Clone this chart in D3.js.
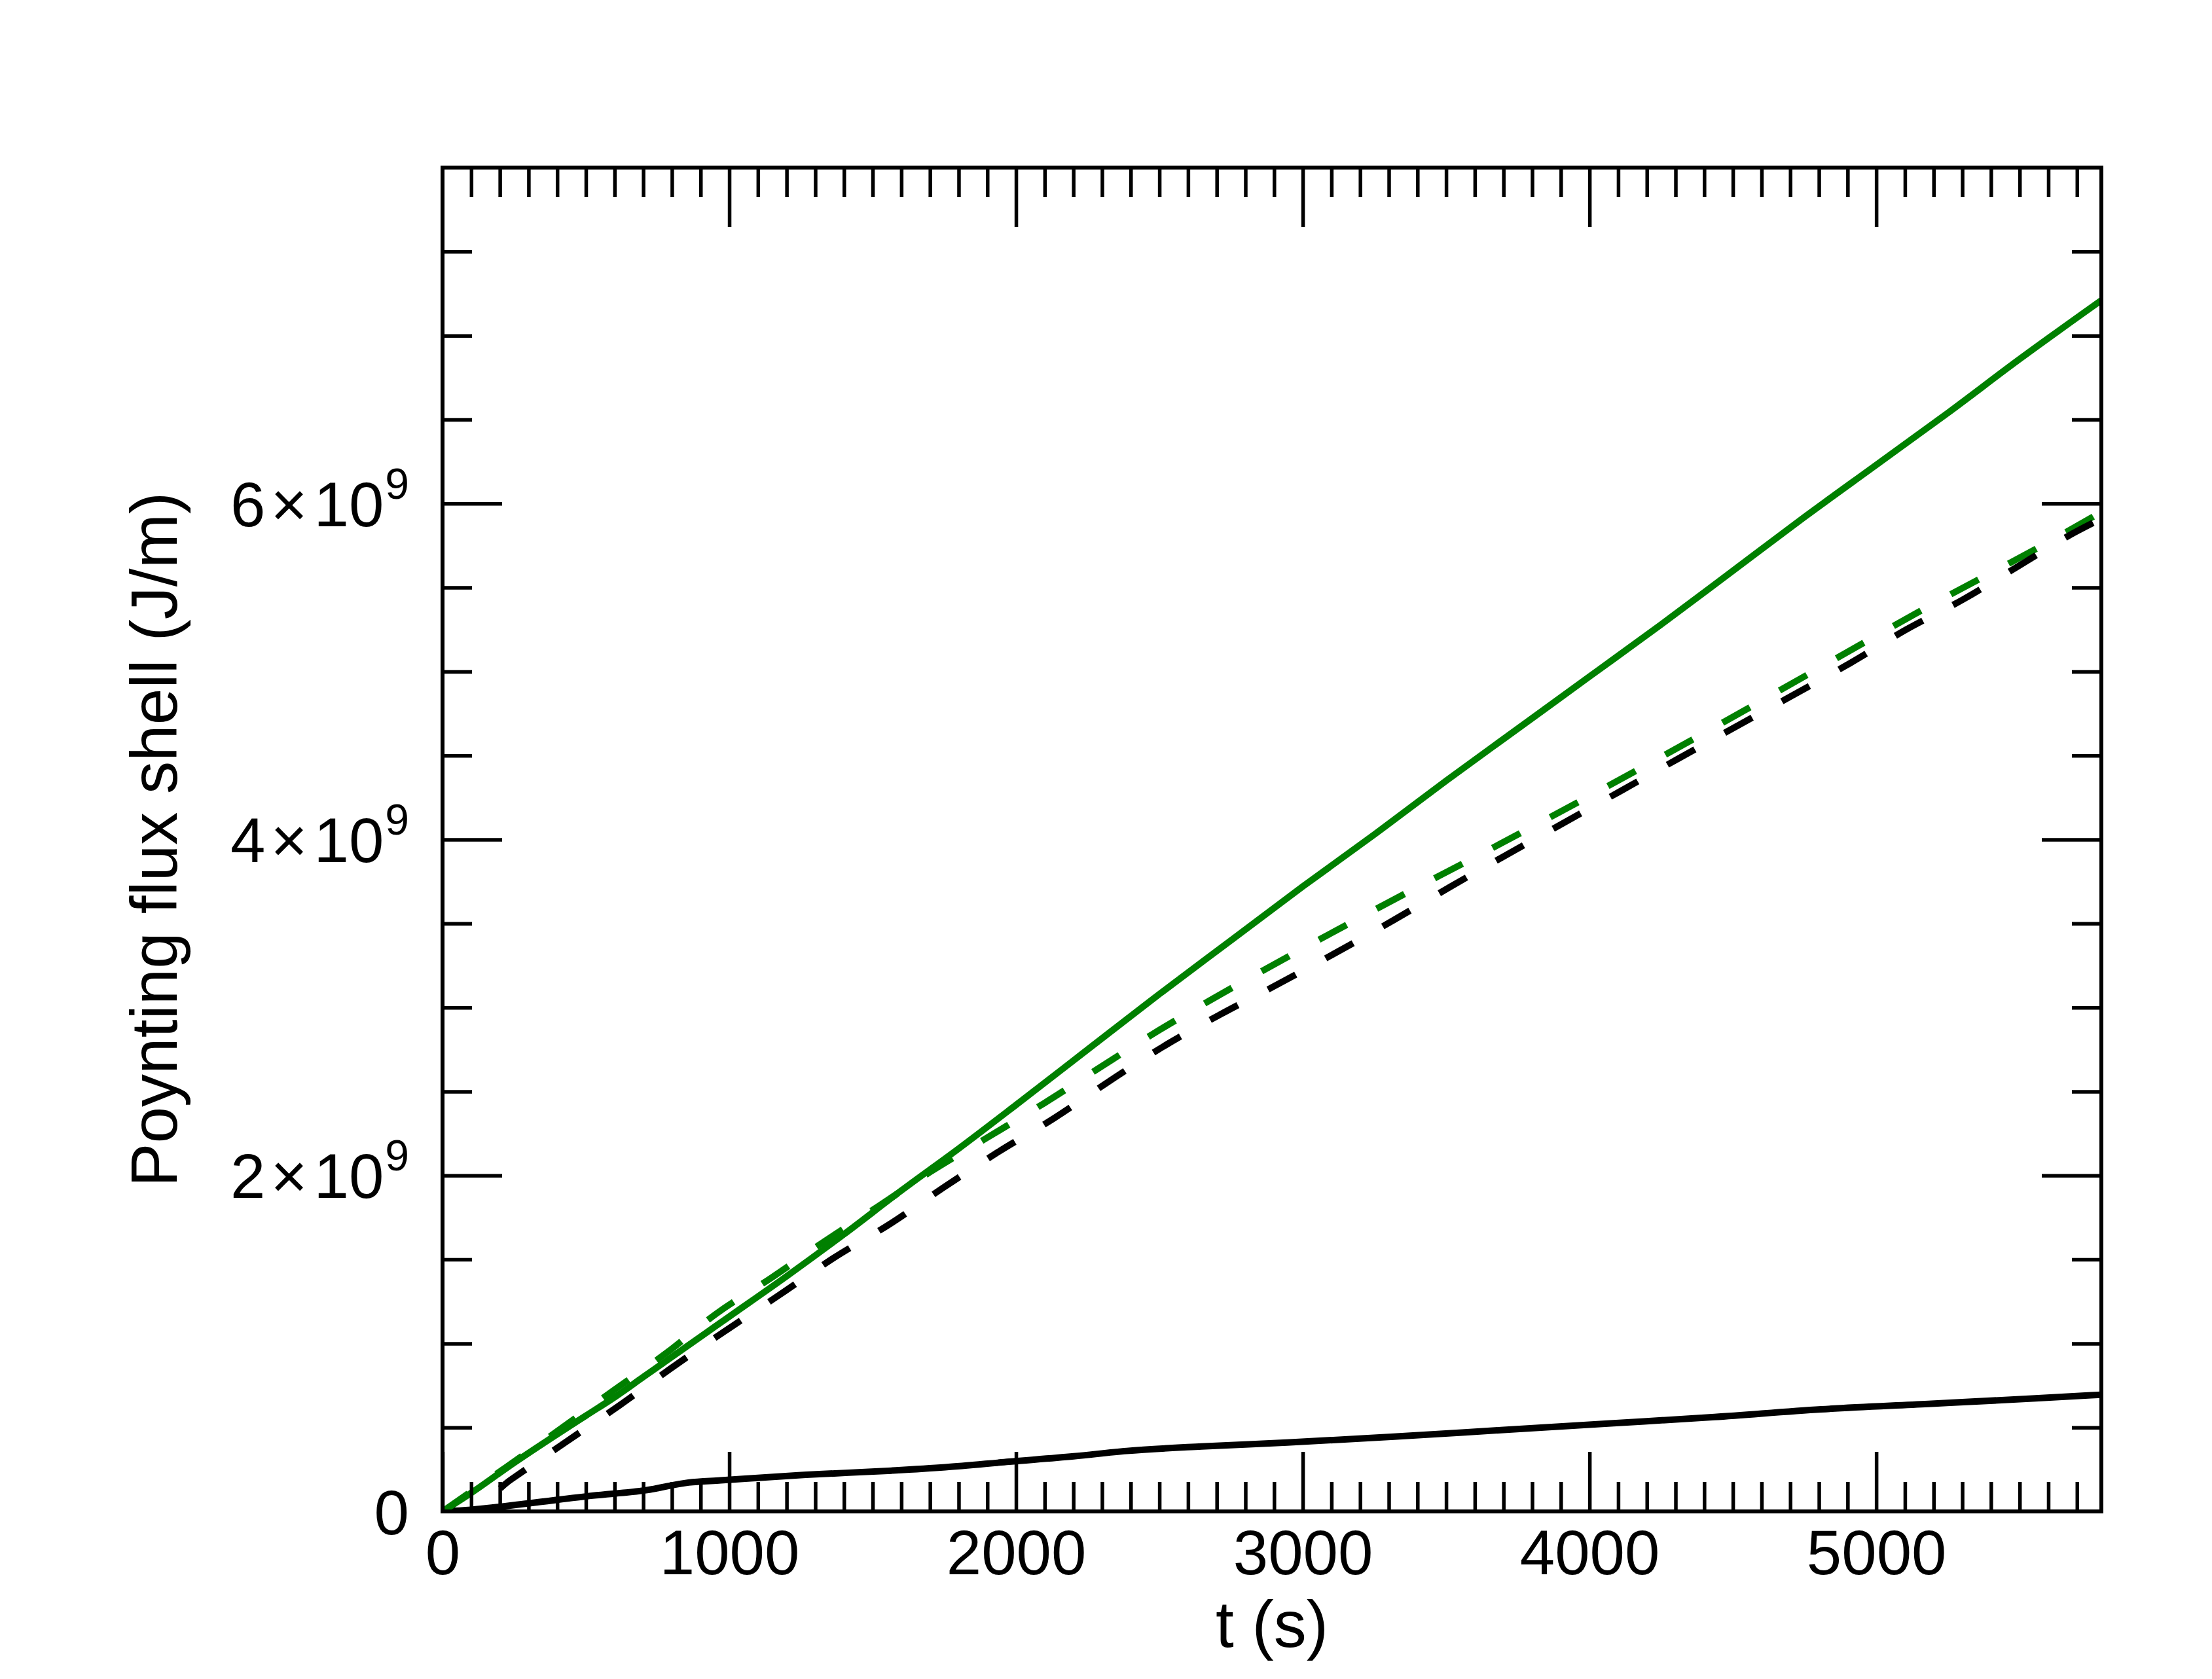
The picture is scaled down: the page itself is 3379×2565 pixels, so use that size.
<!DOCTYPE html>
<html><head><meta charset="utf-8">
<script src="https://cdn.jsdelivr.net/npm/d3@7"></script>
<style>
html,body{margin:0;padding:0;background:#fff;}
svg{display:block;}
text{font-family:"Liberation Sans", Arial, Helvetica, sans-serif; fill:#000;}
</style>
</head><body>
<svg id="chart" width="3379" height="2565"></svg>
<script>
// ---- data (t in s, values in units of 1e9 J/m) ----
const greenSolidT = [0,100,250,400,500,600,700,800,900,1000,1200,1400,1600,1800,2000,2250,2500,2750,3000,3250,3500,3750,4000,4250,4500,4750,5000,5250,5500,5785];
const greenSolidV = [0,0.11,0.29,0.46,0.57,0.68,0.80,0.92,1.04,1.16,1.40,1.65,1.91,2.16,2.42,2.75,3.08,3.40,3.72,4.03,4.35,4.66,4.97,5.28,5.60,5.92,6.23,6.54,6.86,7.21];

const greenDashT = [0,219,402,596,778,957,1146,1334,1523,1700,1904,2098,2290,2475,2674,2872,3260,3662,4438,4635,5228,5621,5785];
const greenDashV = [0,0.26,0.48,0.72,0.94,1.18,1.39,1.61,1.82,2.02,2.23,2.43,2.64,2.84,3.04,3.23,3.59,3.95,4.67,4.86,5.43,5.79,5.95];

const blackDashT = [0,80,239,427,616,795,982,1176,1365,1559,1749,1938,2132,2324,2516,2714,2915,3317,3516,3712,3911,4110,4308,4710,4909,5105,5304,5498,5694,5785];
const blackDashV = [0,0,0.19,0.41,0.63,0.85,1.07,1.29,1.51,1.71,1.93,2.14,2.34,2.56,2.77,2.96,3.14,3.52,3.72,3.91,4.10,4.29,4.48,4.86,5.05,5.25,5.43,5.63,5.83,5.91];

const blackSolidT = [0,100,299,523,709,858,970,1267,1566,1753,1976,2201,2386,2647,2945,3318,3691,4064,4436,4808,5182,5555,5785];
const blackSolidV = [0,0.01,0.048,0.094,0.126,0.172,0.185,0.218,0.243,0.263,0.296,0.328,0.36,0.387,0.41,0.445,0.484,0.523,0.562,0.608,0.64,0.673,0.695];

const xMajorTicks = [0,1000,2000,3000,4000,5000];
const yMajorTicks = [0,2,4,6];
const yLabelMantissa = ["0","2","4","6"];
const Y_UNIT = 1e9;

const xTitle = "t (s)";
const yTitle = "Poynting flux shell (J/m)";

// ---- layout ----
const L = 676, R = 3210, T = 256, B = 2309;
const x = d3.scaleLinear().domain([0, 5785]).range([L, R]);
const y = d3.scaleLinear().domain([0, 8 * Y_UNIT]).range([B, T]);

const svg = d3.select("#chart");
svg.append("rect").attr("width",3379).attr("height",2565).attr("fill","#fff");

svg.append("clipPath").attr("id","plotclip").append("rect")
  .attr("x",L).attr("y",T).attr("width",R-L).attr("height",B-T);

const zip = (ts, vs) => ts.map((t,i)=>[t, vs[i]*Y_UNIT]);
const line = d3.line().x(d=>x(d[0])).y(d=>y(d[1])).curve(d3.curveMonotoneX);

const series = [
  {data: zip(blackSolidT, blackSolidV), color:"#000", dash:null},
  {data: zip(greenDashT, greenDashV), color:"#008000", dash:"48,52"},
  {data: zip(blackDashT, blackDashV), color:"#000", dash:"48,52"},
  {data: zip(greenSolidT, greenSolidV), color:"#008000", dash:null},
];
const gData = svg.append("g").attr("clip-path","url(#plotclip)");
series.forEach(s=>{
  gData.append("path").datum(s.data)
    .attr("d", line).attr("fill","none")
    .attr("stroke", s.color).attr("stroke-width", 10)
    .attr("stroke-linejoin","round")
    .attr("stroke-dasharray", s.dash);
});

// ---- axes ----
const xMinor = d3.range(0, 5785, 100).filter(v => v % 1000 !== 0);
const yMinor = d3.range(0.5, 8, 0.5).filter(v => v % 2 !== 0).map(v=>v*Y_UNIT);
const yMajorVals = yMajorTicks.map(v=>v*Y_UNIT);
const yMajorInner = [2,4,6].map(v=>v*Y_UNIT);

function styleAxis(g){
  g.select(".domain").remove();
  g.selectAll(".tick line").attr("stroke","#000").attr("stroke-width",5.5);
}

// bottom
const gxMaj = svg.append("g").attr("transform",`translate(0,${B})`)
  .call(d3.axisBottom(x).tickValues(xMajorTicks).tickSize(-91).tickFormat(d3.format("d")));
styleAxis(gxMaj);
gxMaj.selectAll(".tick text").attr("y",96).attr("dy",null)
  .attr("font-size",96).attr("font-family",null);
svg.append("g").attr("transform",`translate(0,${B})`)
  .call(d3.axisBottom(x).tickValues(xMinor).tickSize(-45).tickFormat(""))
  .call(styleAxis);

// top
svg.append("g").attr("transform",`translate(0,${T})`)
  .call(d3.axisTop(x).tickValues(xMajorTicks.filter(v=>v>0)).tickSize(-91).tickFormat(""))
  .call(styleAxis);
svg.append("g").attr("transform",`translate(0,${T})`)
  .call(d3.axisTop(x).tickValues(xMinor).tickSize(-45).tickFormat(""))
  .call(styleAxis);

// left
const gyMaj = svg.append("g").attr("transform",`translate(${L},0)`)
  .call(d3.axisLeft(y).tickValues(yMajorVals).tickSize(-91));
styleAxis(gyMaj);
gyMaj.selectAll(".tick line").filter(d=>d===0).remove();
gyMaj.selectAll(".tick text").each(function(d,i){
  const t = d3.select(this);
  t.text(null).attr("x",-51).attr("dy",null).attr("y",34)
   .attr("font-size",96).attr("font-family",null).attr("text-anchor","end");
  const m = yLabelMantissa[yMajorTicks.indexOf(d/Y_UNIT)];
  if (d === 0) { t.text(m); return; }
  t.append("tspan").text(m);
  t.append("tspan").attr("dx",8).text("\u00D7");
  t.append("tspan").attr("dx",10).text("10");
  t.append("tspan").attr("dx",2).attr("dy",-42).attr("font-size",66).text("9");
});
svg.append("g").attr("transform",`translate(${L},0)`)
  .call(d3.axisLeft(y).tickValues(yMinor).tickSize(-45).tickFormat(""))
  .call(styleAxis);

// right
svg.append("g").attr("transform",`translate(${R},0)`)
  .call(d3.axisRight(y).tickValues(yMajorInner).tickSize(-91).tickFormat(""))
  .call(styleAxis);
svg.append("g").attr("transform",`translate(${R},0)`)
  .call(d3.axisRight(y).tickValues(yMinor).tickSize(-45).tickFormat(""))
  .call(styleAxis);

// frame
svg.append("rect").attr("x",L).attr("y",T).attr("width",R-L).attr("height",B-T)
  .attr("fill","none").attr("stroke","#000").attr("stroke-width",6);

// titles
svg.append("text").attr("x",(L+R)/2).attr("y",2516).attr("text-anchor","middle")
  .attr("font-size",100).text(xTitle);
svg.append("text").attr("transform",`translate(270,${(T+B)/2}) rotate(-90)`)
  .attr("text-anchor","middle").attr("font-size",100).text(yTitle);
</script>
</body></html>
